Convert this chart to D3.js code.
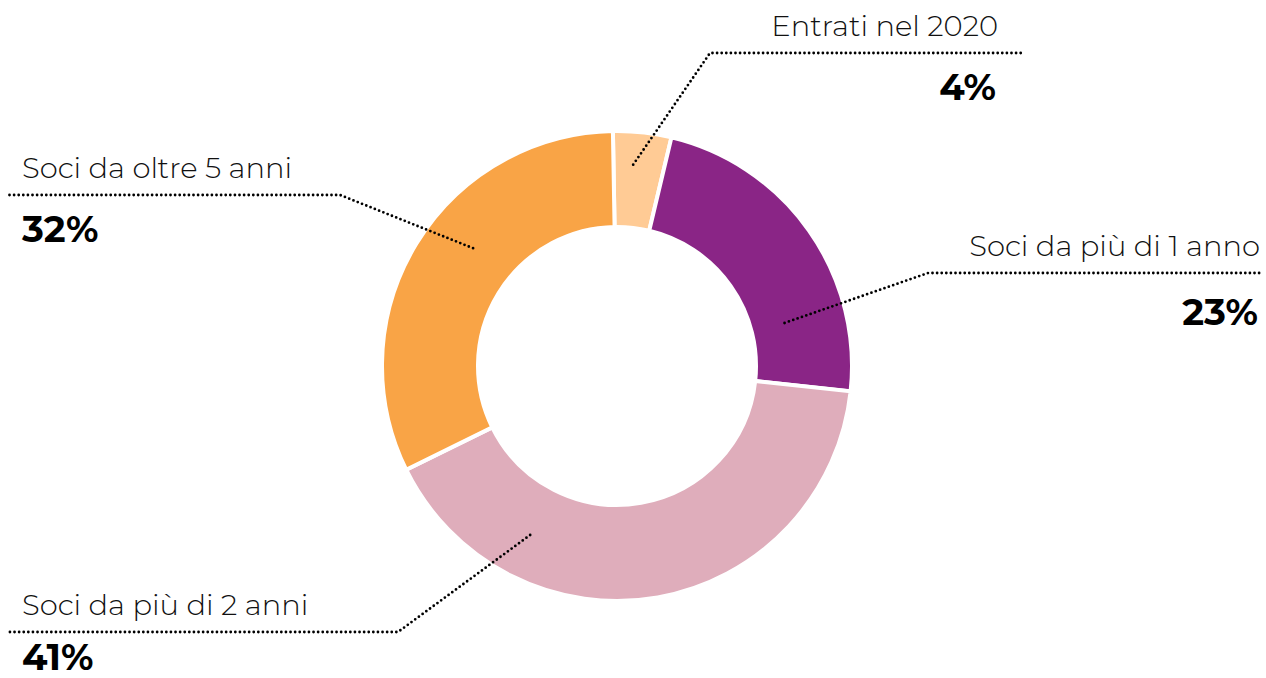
<!DOCTYPE html>
<html>
<head>
<meta charset="utf-8">
<script src="https://cdn.jsdelivr.net/npm/d3@7"></script>
<style>
  body { margin: 0; background: #fff; }
  svg { display: block; }
  .lbl { font-family: Montserrat, Lato, "Open Sans", sans-serif; font-weight: 300; fill: #111; }
  .pct { font-family: Montserrat, Lato, "Open Sans", sans-serif; font-weight: 700; fill: #000; }
</style>
</head>
<body>
<div id="donut"></div>
<script>
// data
const categories = ['Entrati nel 2020', 'Soci da più di 1 anno', 'Soci da più di 2 anni', 'Soci da oltre 5 anni'];
const values = [4, 23, 41, 32];
const colors = ['#FFCB95', '#8A2586', '#DFADBB', '#F9A446'];

// label layout: leader start (angle in degrees, radius), elbow, line end, text x, pct offset
const layout = [
    {a: 4.6,   r: 202, elbow: [710, 53],  end: 1022, side: 'right', tx: 998,  dy: 47},
    {a: 75.6,  r: 173, elbow: [928, 273], end: 1262, side: 'right', tx: 1260, dy: 52},
    {a: 207.2, r: 190, elbow: [398, 632], end: 8,    side: 'left',  tx: 22,   dy: 38},
    {a: 309.3, r: 186, elbow: [340, 195], end: 6,    side: 'left',  tx: 22,   dy: 47}
];

drawDonut();

function drawDonut() {
    const width = 1266;
    const height = 678;
    const cx = 617, cy = 366;
    const outer = 235, inner = 139;
    const rot = -1 * Math.PI / 180;

    const svg = d3.select('#donut')
        .append('svg')
            .attr('width', width)
            .attr('height', height)
            .attr('viewBox', [0, 0, width, height]);

    const data = categories.map((c, i) => ({name: c, value: values[i], color: colors[i], lay: layout[i]}));

    const pie = d3.pie()
        .sort(null)
        .value(d => d.value)
        .startAngle(rot)
        .endAngle(2 * Math.PI + rot);
    const arc = d3.arc()
        .innerRadius(inner)
        .outerRadius(outer);

    const g = svg.append('g')
        .attr('transform', `translate(${cx}, ${cy})`);

    g.selectAll('path')
        .data(pie(data))
        .join('path')
            .attr('fill', d => d.data.color)
            .attr('stroke', '#fff')
            .attr('stroke-width', 4)
            .attr('d', arc);

    // leaders + labels
    const labels = svg.append('g');
    data.forEach(d => {
        const p = d3.pointRadial(d.lay.a * Math.PI / 180, d.lay.r);
        const start = [cx + p[0], cy + p[1]];
        const pts = [start, d.lay.elbow, [d.lay.end, d.lay.elbow[1]]];
        labels.append('path')
            .attr('d', d3.line()(pts))
            .attr('fill', 'none')
            .attr('stroke', '#000')
            .attr('stroke-width', 2.8)
            .attr('stroke-linecap', 'round')
            .attr('stroke-dasharray', '0 4.6');

        const anchor = d.lay.side === 'right' ? 'end' : 'start';
        labels.append('text')
            .attr('class', 'lbl')
            .attr('x', d.lay.tx)
            .attr('y', d.lay.elbow[1] - 17)
            .attr('text-anchor', anchor)
            .style('font-size', '29px')
            .text(d.name);
        labels.append('text')
            .attr('class', 'pct')
            .attr('x', d.lay.tx - (d.lay.side === 'right' ? 2 : 0))
            .attr('y', d.lay.elbow[1] + d.lay.dy)
            .attr('text-anchor', anchor)
            .style('font-size', '37px')
            .text(d.value + '%');
    });
}
</script>
</body>
</html>
